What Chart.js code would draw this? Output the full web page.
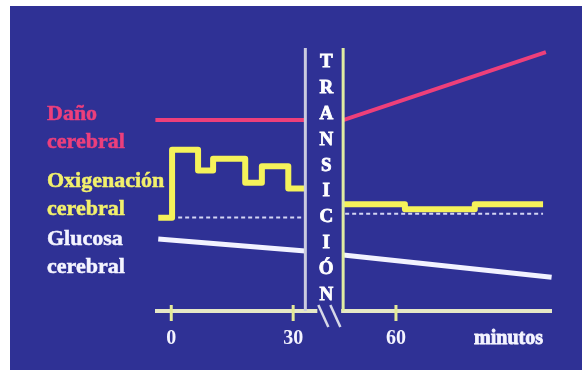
<!DOCTYPE html>
<html>
<head>
<meta charset="utf-8">
<script src="https://cdn.jsdelivr.net/npm/chart.js@4/dist/chart.umd.min.js"></script>
<style>
  html, body { margin: 0; padding: 0; background: #ffffff; width: 582px; height: 370px; overflow: hidden; }
  #panel { position: absolute; left: 10px; top: 6px; width: 572px; height: 364px; background: #2f3195; }
  #panel canvas { position: absolute; left: 0; top: 0; }
  .etiqueta { position: absolute; left: 37px; font: bold 22px/28px "Liberation Serif", "Times New Roman", serif; white-space: nowrap; -webkit-text-stroke: 0.5px currentColor; }
</style>
</head>
<body>
<div id="panel">
  <canvas id="grafico" width="572" height="364"></canvas>
  <div class="etiqueta" style="top:92.6px;color:#ec3f7c">Daño<br>cerebral</div>
  <div class="etiqueta" style="top:159.6px;color:#f2f06c">Oxigenación<br>cerebral</div>
  <div class="etiqueta" style="top:217.6px;color:#f4f4ff">Glucosa<br>cerebral</div>
</div>
<script>
// Time axis (minutes) and the transition window that breaks it
const MINUTOS_TICKS = [0, 30, 60];
const TRANSICION = [33, 47];
const LETRAS_TRANSICION = "TRANSICIÓN";

// Daño cerebral (relative level 0-100)
const DANO_PRE_X = [-3.9, 33];
const DANO_PRE_Y = [70.7, 70.7];
const DANO_POST_X = [47, 96.9];
const DANO_POST_Y = [70.7, 95.9];

// Oxigenación cerebral, stepped
const OXI_PRE_X = [-3.2, 0.2, 6.6, 10.3, 18.2, 22.3, 28.8, 33];
const OXI_PRE_Y = [34.5, 59.7, 52.0, 56.4, 47.5, 53.6, 45.4, 45.4];
const OXI_POST_X = [47, 62.2, 79.4, 96.2];
const OXI_POST_Y = [39.5, 37.7, 39.5, 39.5];

// Basal oxygenation reference (dashed)
const BASAL_PRE_X = [1.7, 33];
const BASAL_PRE_Y = [34.6, 34.6];
const BASAL_POST_X = [47.5, 96.2];
const BASAL_POST_Y = [36, 36];

// Glucosa cerebral
const GLU_PRE_X = [-3.2, 33];
const GLU_PRE_Y = [26.7, 22.2];
const GLU_POST_X = [47, 98.3];
const GLU_POST_Y = [20.7, 12.5];

// Top of the transition band (same relative scale)
const BANDA_TOPE = 97.4;

// The transition window is drawn narrower than its real duration
const ANCHO_BANDA = 9.3;
function toAxis(min) {
  if (min <= TRANSICION[0]) return min;
  if (min >= TRANSICION[1]) return min - (TRANSICION[1] - TRANSICION[0]) + ANCHO_BANDA;
  return TRANSICION[0] + (min - TRANSICION[0]) * ANCHO_BANDA / (TRANSICION[1] - TRANSICION[0]);
}
function puntos(xs, ys) { return xs.map((x, i) => ({ x: toAxis(x), y: ys[i] })); }

const ROJO = '#ee3f7a', AMARILLO = '#f5f25a', BLANCO = '#f2f2ff', BASAL = '#d4d5f4';
const FUENTE = '"Liberation Serif", "Times New Roman", serif';

function linea(data, color, width, extra) {
  return Object.assign({
    data, borderColor: color, borderWidth: width, pointRadius: 0,
    fill: false, tension: 0, borderCapStyle: 'butt', borderJoinStyle: 'round', clip: 8
  }, extra || {});
}

function textoGrueso(ctx, txt, x, y) {
  ctx.fillText(txt, x, y);
  ctx.strokeText(txt, x, y);
}

const decoracion = {
  id: 'decoracion',
  afterDatasetsDraw(chart) {
    const { ctx, chartArea, scales: { x, y } } = chart;
    const ejeY = y.getPixelForValue(0);
    const xa = x.getPixelForValue(toAxis(TRANSICION[0]));
    const xb = x.getPixelForValue(toAxis(TRANSICION[1]));
    const yTop = y.getPixelForValue(BANDA_TOPE);
    ctx.save();
    // axis line, interrupted at the break marks
    ctx.strokeStyle = '#e6e8c6';
    ctx.lineWidth = 4;
    ctx.beginPath();
    ctx.moveTo(chartArea.left, ejeY); ctx.lineTo(xa + 12, ejeY);
    ctx.moveTo(xb - 2, ejeY); ctx.lineTo(chartArea.right, ejeY);
    ctx.stroke();
    // tick marks
    ctx.strokeStyle = '#e4ea98';
    ctx.lineWidth = 3;
    MINUTOS_TICKS.forEach(m => {
      const px = x.getPixelForValue(toAxis(m));
      ctx.beginPath(); ctx.moveTo(px, ejeY - 6); ctx.lineTo(px, ejeY + 10); ctx.stroke();
    });
    // break marks
    ctx.strokeStyle = '#d6d8e8';
    ctx.lineWidth = 2.5;
    [13, 25].forEach(dx => {
      ctx.beginPath();
      ctx.moveTo(xa + dx, ejeY - 6);
      ctx.lineTo(xa + dx + 10, ejeY + 16);
      ctx.stroke();
    });
    // transition band borders
    ctx.lineWidth = 3;
    ctx.strokeStyle = '#cbcbdf';
    ctx.beginPath(); ctx.moveTo(xa, yTop); ctx.lineTo(xa, ejeY); ctx.stroke();
    ctx.strokeStyle = '#e0eca2';
    ctx.beginPath(); ctx.moveTo(xb, yTop); ctx.lineTo(xb, ejeY); ctx.stroke();
    // vertical label inside the band
    ctx.fillStyle = '#ffffff';
    ctx.strokeStyle = '#ffffff';
    ctx.lineWidth = 0.8;
    ctx.font = 'bold 19px ' + FUENTE;
    ctx.textAlign = 'center';
    ctx.textBaseline = 'middle';
    const cx = (xa + xb) / 2 + 2;
    [...LETRAS_TRANSICION].forEach((ch, i) => {
      textoGrueso(ctx, ch, cx, yTop + 14 + i * 25.9);
    });
    // unit label at the end of the axis
    ctx.font = 'bold 20px ' + FUENTE;
    ctx.textAlign = 'right';
    ctx.fillStyle = '#f4f4ff';
    ctx.strokeStyle = '#f4f4ff';
    textoGrueso(ctx, 'minutos', chartArea.right - 9, ejeY + 27.5);
    ctx.restore();
  }
};

new Chart(document.getElementById('grafico'), {
  type: 'line',
  data: {
    datasets: [
      linea(puntos(BASAL_PRE_X, BASAL_PRE_Y), BASAL, 2, { borderDash: [4, 3] }),
      linea(puntos(BASAL_POST_X, BASAL_POST_Y), BASAL, 2, { borderDash: [4, 3] }),
      linea(puntos(DANO_PRE_X, DANO_PRE_Y), ROJO, 4),
      linea(puntos(DANO_POST_X, DANO_POST_Y), ROJO, 4),
      linea(puntos(OXI_PRE_X, OXI_PRE_Y), AMARILLO, 6, { stepped: true }),
      linea(puntos(OXI_POST_X, OXI_POST_Y), AMARILLO, 6, { stepped: true }),
      linea(puntos(GLU_PRE_X, GLU_PRE_Y), BLANCO, 5),
      linea(puntos(GLU_POST_X, GLU_POST_Y), BLANCO, 5)
    ]
  },
  options: {
    responsive: false,
    animation: false,
    devicePixelRatio: 1,
    layout: { padding: { left: 145, right: 30, top: 35, bottom: 0 } },
    plugins: { legend: { display: false }, tooltip: { enabled: false } },
    scales: {
      x: {
        type: 'linear',
        min: -4,
        max: 93.7,
        grid: { display: false, drawTicks: false },
        border: { display: false },
        afterBuildTicks(scale) {
          scale.ticks = MINUTOS_TICKS.map(m => ({ value: toAxis(m) }));
        },
        afterFit(scale) { scale.height = 59; },
        ticks: {
          padding: 16,
          color: '#f4f4ff',
          font: { family: FUENTE, size: 20, weight: 'bold' },
          maxRotation: 0,
          autoSkip: false,
          callback: (v, i) => String(MINUTOS_TICKS[i])
        }
      },
      y: { display: false, min: 0, max: 100 }
    }
  },
  plugins: [decoracion]
});
</script>
</body>
</html>
